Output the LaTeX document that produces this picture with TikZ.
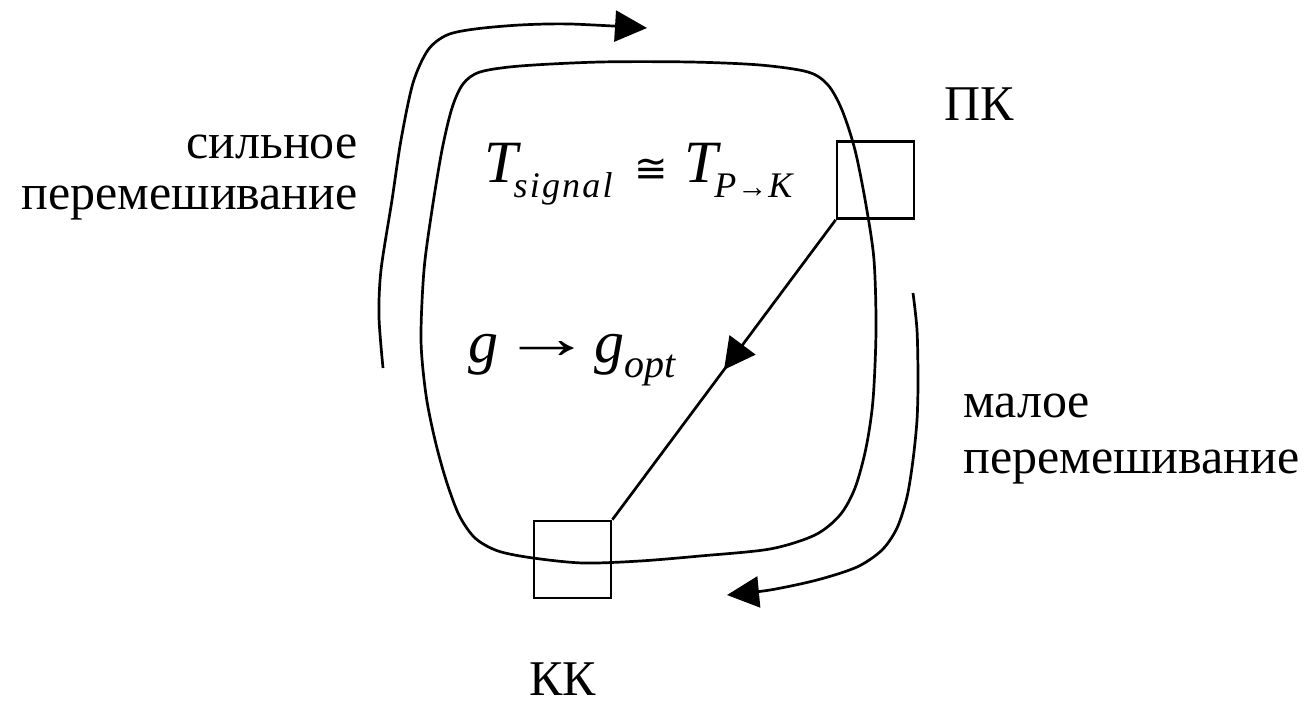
\documentclass[tikz,border=0pt]{standalone}
\usepackage{fontspec}
\usepackage{graphicx}
\setmainfont{Liberation Serif}
\newfontfamily\symf{DejaVu Sans}
\usetikzlibrary{arrows.meta,decorations.markings}
\newcommand{\subtxt}[2]{\raisebox{-15pt}{\fontsize{#1}{#1}\selectfont #2}}
\newcommand{\symb}[2]{{\fontsize{#1}{#1}\symf\upshape #2}}
\newcommand{\arr}[3]{\raisebox{#3}{\resizebox{#2}{\height}{\fontsize{#1}{#1}\selectfont\upshape →}}}
\begin{document}
\begin{tikzpicture}[x=1pt,y=-1pt,line width=2.7pt,
  bigtip/.style={-{Triangle[length=32pt,width=31pt]}},
  midarrow/.style={postaction={decorate},decoration={markings,mark=at position 0.5 with {\arrow{Triangle[length=31pt,width=32pt]}}}},
  sq/.style={draw,rectangle,minimum size=77pt,inner sep=0pt,line width=2.7pt},
  lbl/.style={inner sep=0pt,font=\fontsize{50}{51}\selectfont},
  mth/.style={inner sep=0pt,anchor=base west}]
\useasboundingbox (0,0) rectangle (1306,704);
% closed loop
\draw plot[smooth cycle,tension=0.5] coordinates {
 (480,72) (520,66) (600,62) (690,62) (760,65) (808,72) (828,85) (842,110)
 (855,150) (866,205) (874,260) (876,330) (873,400) (866,448) (855,488)
 (840,515) (815,535) (770,549) (700,556) (640,561) (583,563) (533,558)
 (498,551) (475,538) (459,515) (446,480) (435,440) (426,395) (421,340)
 (424,270) (432,210) (442,150) (452,108) (463,84)};
% outer arrows
\draw[bigtip] plot[smooth,tension=0.5] coordinates {
 (383,368) (379,317) (381,270) (392,200) (401,140) (413,83) (428,50)
 (447,35) (475,29) (520,25) (570,24) (647,28)};
\draw[bigtip] plot[smooth,tension=0.5] coordinates {
 (913,293) (917,330) (918,380) (917,420) (913,460) (907,497) (897,528)
 (882,550) (857,567) (817,580) (770,590) (727,595)};
% boxes
\node[sq] (pk) at (875.5,180) {};
\node[sq] (kk) at (572.5,559.5) {};
\draw[midarrow] (pk.south west) -- (kk.north east);
% labels
\node[lbl,align=right,anchor=base east] (strong) at (359,209) {сильное\\перемешивание};
\node[lbl,align=left,anchor=base west] (weak) at (962,473) {малое\\[5pt]перемешивание};
\node[lbl,anchor=base west] (pklabel) at (943,120) {ПК};
\node[lbl,anchor=base west] (kklabel) at (528,695) {КК};
% formulas
\node[mth] (teq) at (483,182) {\fontsize{60}{60}\selectfont\itshape T\kern-4pt\subtxt{36}{\addfontfeature{LetterSpace=6}signal}\kern22pt\symb{40}{≅}\kern16pt T\kern-3pt\subtxt{36}{P\kern1pt\arr{32}{30pt}{0pt}\kern1pt K}};
\node[mth] (geq) at (467,362) {\fontsize{60}{60}\selectfont\itshape g\kern3pt\arr{60}{91pt}{4pt}\kern2pt g\kern0pt\subtxt{40}{opt}};
\end{tikzpicture}
\end{document}
